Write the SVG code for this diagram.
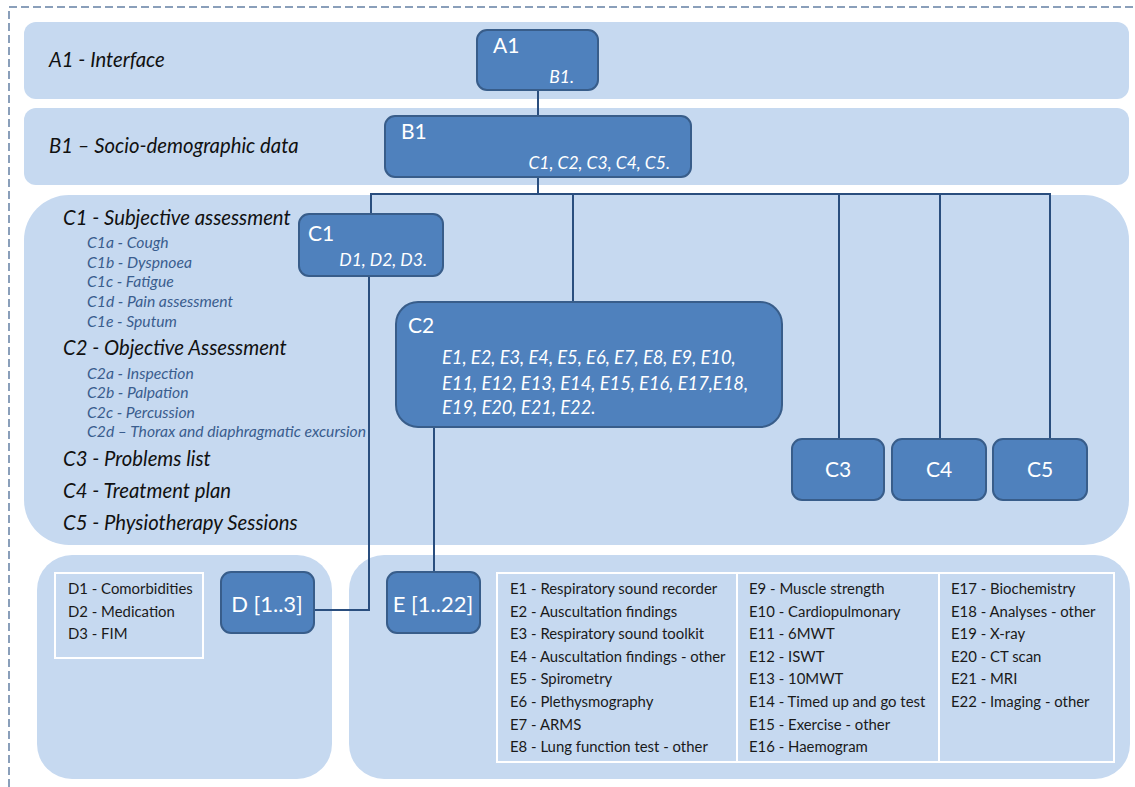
<svg xmlns="http://www.w3.org/2000/svg" width="1135" height="787" viewBox="0 0 1135 787">
<style>
.band{fill:#C6D9F0;}
.box{fill:#4F81BD;stroke:#385D8A;stroke-width:2;}
.ttl{font-family:Lato,"Liberation Sans",sans-serif;font-size:21px;fill:#ffffff;}
.big{font-size:22px;}
.sub{font-family:Lato,"Liberation Sans",sans-serif;font-size:17.5px;font-style:italic;fill:#ffffff;}
.lbl{font-family:Lato,"Liberation Sans",sans-serif;font-size:20.3px;font-style:italic;fill:#111111;}
.sml{font-family:Lato,"Liberation Sans",sans-serif;font-size:15.7px;font-style:italic;fill:#3A5D8E;}
.lst{font-family:Lato,"Liberation Sans",sans-serif;font-size:14.9px;fill:#1a1a1a;}
.conn{fill:none;stroke:#2A4E7E;stroke-width:2;}
.frame{fill:none;stroke:#FFFFFF;stroke-width:2;}
</style>
<rect width="1135" height="787" fill="#ffffff"/>
<g id="border">
<path d="M9,787 V7 H1135" fill="none" stroke="#8A9FBA" stroke-width="2" stroke-dasharray="8,4"/>
</g>
<g id="bands">
<rect class="band" x="24" y="22" width="1105" height="77" rx="12"/>
<rect class="band" x="24" y="108" width="1105" height="77" rx="12"/>
<rect class="band" x="24" y="195" width="1105" height="350" rx="45"/>
<rect class="band" x="37" y="555" width="295" height="224" rx="35"/>
<rect class="band" x="349" y="555" width="781" height="224" rx="35"/>
</g>
<g id="labels">
<text class="lbl" x="49" y="67">A1 - Interface</text>
<text class="lbl" x="49" y="153">B1 – Socio-demographic data</text>
<text class="lbl" x="63" y="225">C1 - Subjective assessment</text>
<text class="sml" x="87" y="248">C1a - Cough</text>
<text class="sml" x="87" y="268">C1b - Dyspnoea</text>
<text class="sml" x="87" y="287">C1c - Fatigue</text>
<text class="sml" x="87" y="307">C1d - Pain assessment</text>
<text class="sml" x="87" y="327">C1e - Sputum</text>
<text class="lbl" x="63" y="355">C2 - Objective Assessment</text>
<text class="sml" x="87" y="379">C2a - Inspection</text>
<text class="sml" x="87" y="398">C2b - Palpation</text>
<text class="sml" x="87" y="418">C2c - Percussion</text>
<text class="sml" x="87" y="437">C2d – Thorax and diaphragmatic excursion</text>
<text class="lbl" x="63" y="466">C3 - Problems list</text>
<text class="lbl" x="63" y="498">C4 - Treatment plan</text>
<text class="lbl" x="63" y="530">C5 - Physiotherapy Sessions</text>
</g>
<g id="connectors">
<path class="conn" d="M538,90 V116"/>
<path class="conn" d="M538,177 V194"/>
<path class="conn" d="M371,214 V194 H1050 V439"/>
<path class="conn" d="M573,194 V302"/>
<path class="conn" d="M839,194 V439"/>
<path class="conn" d="M940,194 V439"/>
<path class="conn" d="M369,276 V610 H314"/>
<path class="conn" d="M434,427 V572"/>
</g>
<g id="A1">
<rect class="box" x="477" y="30" width="121" height="60" rx="10"/>
<text class="ttl" x="493" y="53">A1</text>
<text class="sub" x="574" y="83" text-anchor="end">B1.</text>
</g>
<g id="B1">
<rect class="box" x="385" y="116" width="306" height="61" rx="10"/>
<text class="ttl" x="401" y="139">B1</text>
<text class="sub" x="670" y="169" text-anchor="end">C1, C2, C3, C4, C5.</text>
</g>
<g id="C1">
<rect class="box" x="299" y="214" width="144" height="62" rx="10"/>
<text class="ttl" x="308" y="241">C1</text>
<text class="sub" x="427" y="266" text-anchor="end">D1, D2, D3.</text>
</g>
<g id="C2">
<rect class="box" x="396" y="302" width="386" height="125" rx="22"/>
<text class="ttl" x="408" y="333">C2</text>
<text class="sub" x="442" y="364" style="font-size:18.3px">E1, E2, E3, E4, E5, E6, E7, E8, E9, E10,</text>
<text class="sub" x="442" y="390" style="font-size:18.3px">E11, E12, E13, E14, E15, E16, E17,E18,</text>
<text class="sub" x="442" y="414" style="font-size:18.3px">E19, E20, E21, E22.</text>
</g>
<g id="C3">
<rect class="box" x="792" y="439" width="92" height="61" rx="10"/>
<text class="ttl" x="838" y="477" text-anchor="middle">C3</text>
</g>
<g id="C4">
<rect class="box" x="892" y="439" width="94" height="61" rx="10"/>
<text class="ttl" x="939" y="477" text-anchor="middle">C4</text>
</g>
<g id="C5">
<rect class="box" x="993" y="439" width="94" height="61" rx="10"/>
<text class="ttl" x="1040" y="477" text-anchor="middle">C5</text>
</g>
<g id="D">
<rect class="box" x="221" y="572" width="93" height="61" rx="10"/>
<text class="ttl big" x="267" y="612" text-anchor="middle">D [1..3]</text>
</g>
<g id="E">
<rect class="box" x="387" y="572" width="93" height="61" rx="10"/>
<text class="ttl big" x="433" y="612" text-anchor="middle">E [1..22]</text>
</g>
<g id="D-list">
<rect class="frame" x="55" y="573" width="148" height="85"/>
<text class="lst" x="68" y="594">D1 - Comorbidities</text>
<text class="lst" x="68" y="617">D2 - Medication</text>
<text class="lst" x="68" y="639">D3 - FIM</text>
</g>
<g id="E-list">
<rect class="frame" x="497" y="573" width="617" height="189"/>
<path class="frame" d="M737,573 V762 M939,573 V762"/>
<text class="lst" x="510" y="594">E1 - Respiratory sound recorder</text>
<text class="lst" x="510" y="617">E2 - Auscultation findings</text>
<text class="lst" x="510" y="639">E3 - Respiratory sound  toolkit</text>
<text class="lst" x="510" y="662">E4 - Auscultation findings - other</text>
<text class="lst" x="510" y="684">E5 - Spirometry</text>
<text class="lst" x="510" y="707">E6 - Plethysmography</text>
<text class="lst" x="510" y="730">E7 - ARMS</text>
<text class="lst" x="510" y="752">E8 - Lung function test - other</text>
<text class="lst" x="749" y="594">E9 - Muscle strength</text>
<text class="lst" x="749" y="617">E10 - Cardiopulmonary</text>
<text class="lst" x="749" y="639">E11 - 6MWT</text>
<text class="lst" x="749" y="662">E12 - ISWT</text>
<text class="lst" x="749" y="684">E13 - 10MWT</text>
<text class="lst" x="749" y="707">E14 - Timed up and go test</text>
<text class="lst" x="749" y="730">E15 - Exercise - other</text>
<text class="lst" x="749" y="752">E16 - Haemogram</text>
<text class="lst" x="951" y="594">E17 - Biochemistry</text>
<text class="lst" x="951" y="617">E18 - Analyses - other</text>
<text class="lst" x="951" y="639">E19 - X-ray</text>
<text class="lst" x="951" y="662">E20 - CT scan</text>
<text class="lst" x="951" y="684">E21 - MRI</text>
<text class="lst" x="951" y="707">E22 - Imaging - other</text>
</g>
</svg>
